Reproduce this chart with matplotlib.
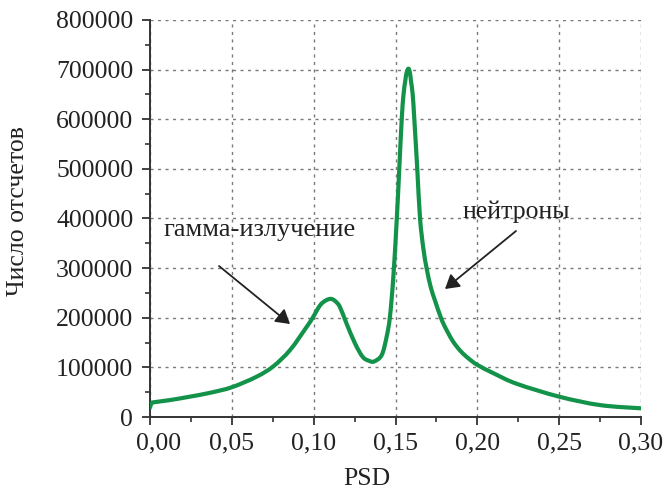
import matplotlib
matplotlib.use("Agg")
import numpy as np
import matplotlib.pyplot as plt
import matplotlib.transforms as mtransforms
from matplotlib.path import Path
from matplotlib.patches import PathPatch
from matplotlib.ticker import MultipleLocator

# PSD spectrum (pulse shape discrimination parameter vs. counts)
psd = [0.0000, 0.0010, 0.0030, 0.0120, 0.0244, 0.0370, 0.0500, 0.0650,
       0.0753, 0.0856, 0.0958, 0.0994, 0.1039, 0.1075, 0.1105, 0.1130,
       0.1160, 0.1200, 0.1253, 0.1300, 0.1340, 0.1370, 0.1416, 0.1446,
       0.1466, 0.1487, 0.1508, 0.1523, 0.1538, 0.1549, 0.1560, 0.1568,
       0.1579, 0.1588, 0.1595, 0.1605, 0.1615, 0.1633, 0.1650, 0.1670,
       0.1690, 0.1715, 0.1741, 0.1772, 0.1800, 0.1850, 0.1900, 0.1950,
       0.2000, 0.2100, 0.2240, 0.2500, 0.2750, 0.3000]
counts = [19000, 28000, 30000, 34000, 41000, 49000, 60000, 81000,
          102000, 135000, 182000, 200000, 225000, 235000, 238000, 234000,
          222000, 189000, 148000, 121000, 113000, 112000, 125000, 162000,
          202000, 283000, 400000, 500000, 600000, 650000, 678000, 694000,
          702000, 694000, 676000, 650000, 600000, 500000, 400000, 340000,
          300000, 262000, 235000, 205000, 183000, 153000, 132000, 117000,
          105000, 88000, 67000, 41000, 24000, 17500]

x_ticks = [0.00, 0.05, 0.10, 0.15, 0.20, 0.25, 0.30]
x_tick_labels = ["0,00", "0,05", "0,10", "0,15", "0,20", "0,25", "0,30"]
y_ticks = [0, 100000, 200000, 300000, 400000, 500000, 600000, 700000, 800000]
y_tick_labels = [str(v) for v in y_ticks]

x_label = "PSD"
y_label = "Число отсчетов"
gamma_label = "гамма-излучение"
neutron_label = "нейтроны"

W, H = 672, 491
FS = 18.5
plt.rcParams["font.family"] = ["Liberation Serif", "DejaVu Serif"]
plt.rcParams["font.size"] = FS

fig = plt.figure(figsize=(W / 100, H / 100), dpi=100)
fig.patch.set_facecolor("white")


def fx(px):
    return px / W


def fy(py):
    return 1 - py / H


def smooth_path(xs, ys):
    """Cubic Bezier path passing through every (x, y) point (Catmull-Rom)."""
    p = np.column_stack([xs, ys]).astype(float)
    ext = np.vstack([p[0], p, p[-1]])
    verts = [p[0]]
    codes = [Path.MOVETO]
    for i in range(len(p) - 1):
        p0, p1, p2, p3 = ext[i], ext[i + 1], ext[i + 2], ext[i + 3]
        c1 = p1 + (p2 - p0) / 6.0
        c2 = p2 - (p3 - p1) / 6.0
        verts += [c1, c2, p2]
        codes += [Path.CURVE4] * 3
    return Path(verts, codes)


ax = fig.add_axes([fx(150), fy(417), fx(641) - fx(150), fy(20) - fy(417)])

curve = PathPatch(smooth_path(psd, counts), facecolor="none",
                  edgecolor="#13924a", lw=3.0, capstyle="round",
                  joinstyle="round", zorder=3, transform=ax.transData)
ax.add_patch(curve)

ax.set_xlim(0, 0.30)
ax.set_ylim(0, 800000)
ax.set_xticks(x_ticks)
ax.set_xticklabels(x_tick_labels)
ax.set_yticks(y_ticks)
ax.set_yticklabels(y_tick_labels)
ax.xaxis.set_minor_locator(MultipleLocator(0.025))
ax.yaxis.set_minor_locator(MultipleLocator(50000))

ax.grid(True, which="major", color="#7a7a7a", lw=1.0, linestyle=(0, (2.2, 3.2)))
ax.set_axisbelow(True)

for side in ("top", "right"):
    ax.spines[side].set_visible(False)
for side in ("left", "bottom"):
    ax.spines[side].set_color("#333333")
    ax.spines[side].set_linewidth(1.4)

ax.tick_params(which="major", direction="out", length=6, width=1.3,
               color="#333333", labelsize=FS, labelcolor="#222222")
ax.tick_params(axis="x", which="major", pad=5)
ax.tick_params(axis="y", which="major", pad=6)
ax.tick_params(which="minor", direction="out", length=3.5, width=1.2,
               color="#333333")

# nudge the first x label clear of the y-axis zero label
first = ax.get_xticklabels()[0]
first.set_transform(first.get_transform() +
                    mtransforms.ScaledTranslation(9 / 100, 0, fig.dpi_scale_trans))

fig.text(fx(367), fy(479), x_label, ha="center", va="center",
         fontsize=FS, color="#222222")
fig.text(fx(18), fy(211), y_label, ha="center", va="center",
         rotation=90, fontsize=FS, color="#222222")

arrow_kw = dict(arrowstyle="-|>,head_length=0.45,head_width=0.27",
                color="#222222", lw=1.3, shrinkA=0, shrinkB=0)

ax.annotate("", xy=(fx(290), fy(324)), xycoords="figure fraction",
            xytext=(fx(219), fy(266)), textcoords="figure fraction",
            arrowprops=arrow_kw)
ax.annotate("", xy=(fx(445), fy(289)), xycoords="figure fraction",
            xytext=(fx(516), fy(231)), textcoords="figure fraction",
            arrowprops=arrow_kw)

fig.text(fx(260), fy(236), gamma_label, ha="center", va="baseline",
         fontsize=19, color="#222222")
fig.text(fx(516), fy(218), neutron_label, ha="center", va="baseline",
         fontsize=FS, color="#222222")

fig.savefig("out.png", dpi=100, facecolor="white")
